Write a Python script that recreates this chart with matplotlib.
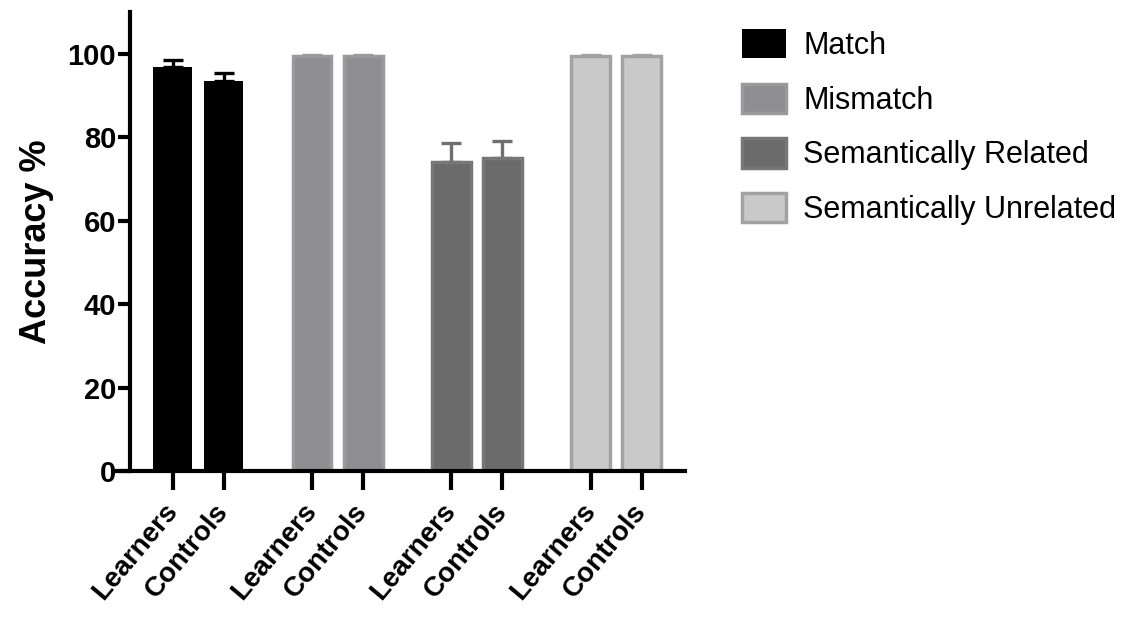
import matplotlib
matplotlib.use("Agg")
import matplotlib.pyplot as plt
from matplotlib.patches import Patch
import numpy as np

# Data
conditions = ["Match", "Mismatch", "Semantically Related", "Semantically Unrelated"]
groups = ["Learners", "Controls"]
accuracy = {
    "Match": [96.8, 93.4],
    "Mismatch": [99.4, 99.4],
    "Semantically Related": [74.1, 75.0],
    "Semantically Unrelated": [99.5, 99.4],
}
sem = {
    "Match": [1.6, 1.9],
    "Mismatch": [0.3, 0.3],
    "Semantically Related": [4.4, 4.1],
    "Semantically Unrelated": [0.3, 0.3],
}
yticks = [0, 20, 40, 60, 80, 100]

fills = {"Match": "#000000", "Mismatch": "#8e8e90",
         "Semantically Related": "#6b6b6b", "Semantically Unrelated": "#c9c9c9"}
edges = {"Match": "#000000", "Mismatch": "#9a9a9c",
         "Semantically Related": "#777777", "Semantically Unrelated": "#a2a2a2"}
errcol = {"Match": "#000000", "Mismatch": "#9a9a9c",
          "Semantically Related": "#6f6f6f", "Semantically Unrelated": "#a2a2a2"}

font = "Liberation Sans"

fig = plt.figure(figsize=(11.32, 6.18), dpi=100)
ax = fig.add_axes([130 / 1132, 1 - 471 / 618, (685 - 130) / 1132, (471 - 12) / 618])

group_step = 2.73
width = 0.76
xpos, xlabels = [], []
for g, cond in enumerate(conditions):
    xs = [g * group_step + m for m in range(len(groups))]
    vals = accuracy[cond]
    ax.bar(xs, vals, width=width, color=fills[cond], edgecolor=edges[cond],
           linewidth=2.5 if cond != "Match" else 0, zorder=2)
    ax.errorbar(xs, vals, yerr=[np.zeros(len(vals)), sem[cond]], fmt="none",
                ecolor=errcol[cond], elinewidth=2.4, capsize=7, capthick=2.4, zorder=1)
    xpos += xs
    xlabels += groups

ax.set_xlim(-0.84, 10.04)
ax.set_ylim(0, 110)

for side in ["top", "right"]:
    ax.spines[side].set_visible(False)
for side in ["left", "bottom"]:
    ax.spines[side].set_linewidth(3)
ax.spines["bottom"].set_bounds(-1.15, 10.04)

ax.set_yticks(yticks)
ax.set_yticklabels([str(t) for t in yticks], fontfamily=font, fontweight="bold", fontsize=21)
ax.tick_params(axis="y", length=9, width=3, pad=1)

ax.set_xticks(xpos)
ax.set_xticklabels(xlabels, fontfamily=font, fontweight="bold", fontsize=20,
                   rotation=50, ha="right", va="center", rotation_mode="anchor")
ax.tick_params(axis="x", length=14, width=3, pad=12)

ax.set_ylabel("Accuracy %", fontfamily=font, fontweight="bold", fontsize=26, labelpad=10)

handles = [Patch(facecolor=fills[c], edgecolor=edges[c], linewidth=2.5 if c != "Match" else 0)
           for c in conditions]
fig.legend(handles, conditions, loc="upper left", bbox_to_anchor=(742 / 1132, 1 - 29 / 618),
           frameon=False, prop={"family": font, "size": 22},
           handlelength=1.45, handleheight=1.1, handletextpad=0.55,
           labelspacing=0.74, borderpad=0, borderaxespad=0)

fig.savefig("out.png", dpi=100)
